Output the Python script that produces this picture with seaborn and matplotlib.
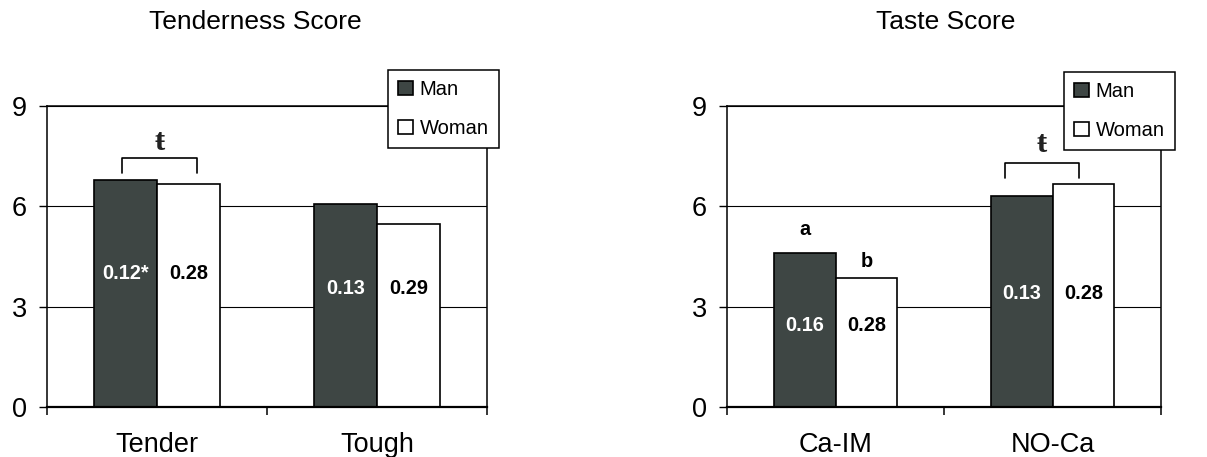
import pandas as pd
import seaborn as sns
import matplotlib.pyplot as plt

sns.set_theme(style="white")
plt.rcParams['font.family'] = ['Liberation Sans', 'DejaVu Sans']
plt.rcParams['text.color'] = 'black'
plt.rcParams['xtick.color'] = 'black'
plt.rcParams['ytick.color'] = 'black'
plt.rcParams['axes.labelcolor'] = 'black'

# data
sexes = ["Man", "Woman"]

tender_groups = ["Tender", "Tough"]
tender_man = [6.79, 6.07]
tender_woman = [6.67, 5.47]
tender_txt_man = ["0.12*", "0.13"]
tender_txt_woman = ["0.28", "0.29"]

taste_groups = ["Ca-IM", "NO-Ca"]
taste_man = [4.61, 6.32]
taste_woman = [3.85, 6.68]
taste_txt_man = ["0.16", "0.13"]
taste_txt_woman = ["0.28", "0.28"]
taste_letters_man = ["a", ""]
taste_letters_woman = ["b", ""]

colors = {"Man": "#3e4644", "Woman": "white"}


def make_df(groups, man, woman):
    return pd.DataFrame({
        "group": groups * 2,
        "sex": ["Man"] * len(groups) + ["Woman"] * len(groups),
        "score": man + woman,
    })


def draw_panel(ax, df, txt_man, txt_woman, txt_y, legend_xy):
    sns.barplot(df, x="group", y="score", hue="sex", hue_order=sexes,
                palette=colors, saturation=1, width=0.57, errorbar=None,
                edgecolor="black", linewidth=1.2, ax=ax)
    ax.set_xlim(-0.5, 1.5)
    ax.set_ylim(0, 9)
    ax.set_yticks([0, 3, 6, 9])
    ax.yaxis.grid(True, color="black", linewidth=0.8)
    ax.set_axisbelow(True)
    for s in ax.spines.values():
        s.set_visible(True)
        s.set_color("black")
        s.set_linewidth(1.1)
    ax.spines["bottom"].set_linewidth(1.6)
    ax.set_xlabel("")
    ax.set_ylabel("")

    ax.set_xticks([0, 1])
    ax.set_xticks([-0.5, 0.5, 1.5], minor=True)
    ax.tick_params(axis="x", which="major", length=0, pad=18, labelsize=19.5)
    ax.tick_params(axis="x", which="minor", bottom=True, length=6,
                   width=1.1, color="black", direction="out")
    ax.tick_params(axis="y", left=True, length=5.5, width=1, color="black",
                   pad=9, labelsize=19.5, direction="out")

    for cont, texts, col in zip(ax.containers, [txt_man, txt_woman],
                                ["white", "black"]):
        for bar, t, y in zip(cont, texts, txt_y):
            ax.text(bar.get_x() + bar.get_width() / 2, y, t, color=col,
                    ha="center", va="center", fontsize=14.3,
                    fontweight="bold")

    sns.move_legend(ax, "upper left", bbox_to_anchor=legend_xy,
                    bbox_transform=ax.figure.transFigure, title=None,
                    frameon=True, fancybox=False, edgecolor="black",
                    framealpha=1, fontsize=14.5, handlelength=0.72,
                    handleheight=0.72, handletextpad=0.35, borderpad=0.5,
                    labelspacing=1.0, borderaxespad=0)
    ax.get_legend().get_frame().set_linewidth(1.1)


def bracket(ax, x0, x1, y0, y1, ysym):
    ax.plot([x0, x0, x1, x1], [y0, y1, y1, y0], color="black", linewidth=1.2)
    ax.text((x0 + x1) / 2, ysym, "ŧ", family=["Liberation Serif", "DejaVu Serif"],
            fontsize=22, fontweight="bold", ha="center", va="center",
            color="#222222")


fig = plt.figure(figsize=(12.07, 4.57), dpi=100)
ax1 = fig.add_axes([0.03894, 0.10941, 0.36454, 0.65864])
ax2 = fig.add_axes([0.60232, 0.10941, 0.35957, 0.65864])

draw_panel(ax1, make_df(tender_groups, tender_man, tender_woman),
           tender_txt_man, tender_txt_woman, [4.0, 3.53], (0.3215, 0.8468))
bracket(ax1, -0.16, 0.18, 7.0, 7.45, 7.9)

draw_panel(ax2, make_df(taste_groups, taste_man, taste_woman),
           taste_txt_man, taste_txt_woman, [2.45, 3.4], (0.8815, 0.8425))
bracket(ax2, 0.78, 1.12, 6.85, 7.3, 7.84)
for cont, letters, y in zip(ax2.containers,
                            [taste_letters_man, taste_letters_woman],
                            [[5.3, 0], [4.35, 0]]):
    for bar, t, yy in zip(cont, letters, y):
        if t:
            ax2.text(bar.get_x() + bar.get_width() / 2, yy, t, ha="center",
                     va="center", fontsize=14.3, fontweight="bold",
                     color="black")

fig.text(0.2113, 0.9519, "Tenderness Score", ha="center", va="center",
         fontsize=19)
fig.text(0.7838, 0.9519, "Taste Score", ha="center", va="center",
         fontsize=19)

fig.savefig("out.png", dpi=100)
